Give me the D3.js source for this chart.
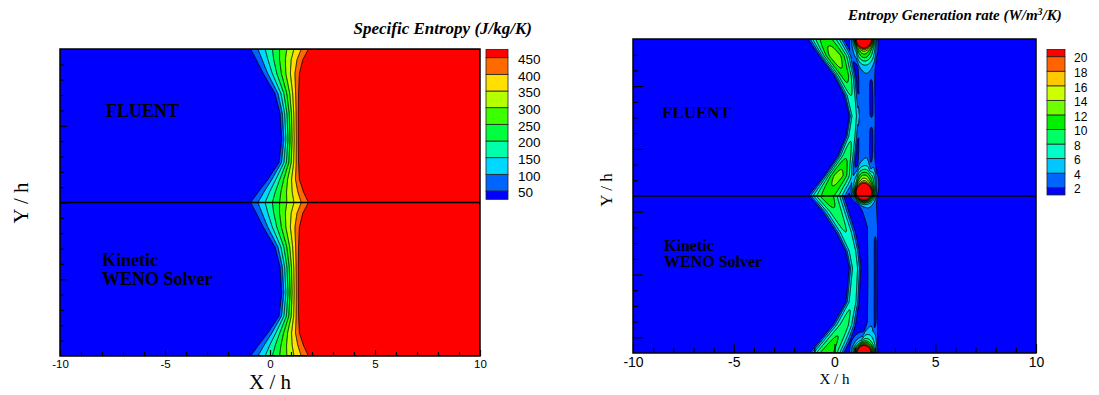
<!DOCTYPE html>
<html>
<head>
<meta charset="utf-8">
<script src="https://cdn.jsdelivr.net/npm/d3@7"></script>
<style>
  body { margin: 0; background: #fff; }
  svg { display: block; }
</style>
</head>
<body>
<svg id="chart" width="1099" height="395"></svg>
<script>
// ---------- values ----------
const xMajor = [-10, -5, 0, 5, 10];
const xMinor = d3.range(-10, 10.5, 1).filter(v => v % 5 !== 0);
const yMinor = d3.range(-9, 10, 1);
const yMajorLeft = [-5, 0, 5];
const yMajorRight = [7, 3, -1, -5, -9];

// left panel : specific entropy, levels and colours
const sLevels = [50, 100, 150, 200, 250, 300, 350, 400, 450];
const sColors = ["#0000ff", "#0064ff", "#00d8ff", "#00ffaa", "#00ff3c", "#3cff00", "#b4ff00", "#ffe000", "#ff6a00", "#ff0000"];
// edges of the entropy front (x/h) for each depth into a half channel (y/h from the wall)
const sDepth = [0, 0.7, 1.6, 2.9, 4.2, 5.9, 7.4, 8.5, 9.3, 10];
const sLeft  = [-0.92, -0.65, -0.32, 0.24, 0.48, 0.56, 0.43, -0.1, -0.55, -0.92];
const sRight = [1.83, 1.56, 1.40, 1.36, 1.35, 1.35, 1.36, 1.40, 1.59, 1.83];

// right panel : entropy generation rate
const gLevels = [2, 4, 6, 8, 10, 12, 14, 16, 18, 20];
const gColors = ["#0000ff", "#0064ff", "#00c8ff", "#00ffc8", "#00ff64", "#00f000", "#6eff00", "#ccff00", "#ffc800", "#ff6400", "#ff0000"];
// crescent ribbon, upper half
const r1DepthUp = [0, 1.08, 2.35, 3.6, 4.9, 6.2, 7.45, 8.7, 10];
const r1LeftUp  = [-1.38, -0.80, -0.06, 0.44, 0.69, 0.52, 0.11, -0.56, -1.38];
const r1RightUp = [0.52, 0.85, 1.10, 1.20, 1.27, 1.20, 1.10, 0.93, 0.69];
const r1PeakUp  = [11, 13.5, 11, 8, 7, 7.5, 9.5, 13, 11];
// crescent ribbon, lower half
const r1DepthLo = [0, 1.0, 2.3, 3.5, 4.6, 6.75, 8.2, 10];
const r1LeftLo  = [-1.30, -0.64, 0.02, 0.50, 0.69, 0.52, -0.14, -1.30];
const r1RightLo = [0.52, 0.77, 1.10, 1.28, 1.35, 1.27, 1.10, 0.52];
const r1PeakLo  = [11.5, 9.5, 8, 7.2, 7, 7.5, 9, 11.5];
// thin vertical ribbon
const r2Depth   = [0, 1, 2, 5, 8, 9, 10];
const r2LeftUp  = [1.0, 1.12, 1.15, 1.15, 1.15, 1.12, 1.0];
const r2RightUp = [2.1, 2.05, 2.05, 2.08, 2.05, 2.05, 2.1];
const r2LeftLo  = [1.0, 1.35, 1.6, 1.62, 1.6, 1.4, 1.1];
const r2RightLo = [2.1, 2.15, 2.17, 2.17, 2.17, 2.15, 2.1];
const r2Peak = 3.6;
const holeDepth = [0, 2.2, 2.8, 3.8, 4.8, 5.3, 5.8, 7.0, 8.3, 8.8, 10];
const holeUp    = [0, 0, 2.1, 2.5, 2.1, 0, 2.1, 2.5, 2.1, 0, 0];
const holeLo    = [0, 0, 2.1, 2.5, 2.5, 2.5, 2.5, 2.5, 2.1, 0, 0];
// hot spots on the walls and on the symmetry line
const blobX = [1.45, 1.45, 1.45];
const blobY = [10, 0.2, -10];
const blobPeak = [45, 45, 35];
const skirtY = [9.3, 0.9, -9.6];
const skirtPeak = [9, 11, 7];

// ---------- fields ----------
const sL = d3.scaleLinear(sDepth, sLeft), sR = d3.scaleLinear(sDepth, sRight);
function entropy(xv, yv) {
  const d = yv >= 0 ? 10 - yv : -yv;
  const t = (xv - sL(d)) / (sR(d) - sL(d));
  return 50 + 400 * Math.max(-0.2, Math.min(1.2, t));
}

const up1 = [d3.scaleLinear(r1DepthUp, r1LeftUp), d3.scaleLinear(r1DepthUp, r1RightUp), d3.scaleLinear(r1DepthUp, r1PeakUp)];
const lo1 = [d3.scaleLinear(r1DepthLo, r1LeftLo), d3.scaleLinear(r1DepthLo, r1RightLo), d3.scaleLinear(r1DepthLo, r1PeakLo)];
const up2 = [d3.scaleLinear(r2Depth, r2LeftUp), d3.scaleLinear(r2Depth, r2RightUp), d3.scaleLinear(holeDepth, holeUp)];
const lo2 = [d3.scaleLinear(r2Depth, r2LeftLo), d3.scaleLinear(r2Depth, r2RightLo), d3.scaleLinear(holeDepth, holeLo)];

// bump across a ribbon (k < 1 flattens the top)
function ribbon(xv, L, R, P, k) {
  const t = (xv - L) / (R - L);
  return t <= 0 || t >= 1 ? 0 : P * Math.pow(Math.sin(Math.PI * t), k);
}
function generation(xv, yv) {
  const upper = yv >= 0;
  const d = upper ? 10 - yv : -yv;
  const a = upper ? up1 : lo1, b = upper ? up2 : lo2;
  let v = ribbon(xv, a[0](d), a[1](d), a[2](d), 0.8);
  const L2 = b[0](d), R2 = b[1](d);
  const t2 = (xv - L2) / (R2 - L2);
  v += ribbon(xv, L2, R2, r2Peak, 0.35) - b[2](d) * Math.exp(-Math.pow((t2 - 0.72) / 0.1, 2));
  blobX.forEach((bx, i) => {
    const dx = xv - bx;
    v += blobPeak[i] * Math.exp(-(dx * dx) / (2 * 0.25 * 0.25) - Math.pow(yv - blobY[i], 2) / (2 * 0.3 * 0.3));
    v += skirtPeak[i] * Math.exp(-(dx * dx) / (2 * 0.4 * 0.4) - Math.pow(yv - skirtY[i], 2) / (2 * 0.6 * 0.6));
  });
  return v;
}

// ---------- drawing ----------
const svg = d3.select("#chart");
const serif = "'Times New Roman', 'Liberation Serif', serif";
const sans = "Arial, 'Liberation Sans', sans-serif";

function panel(o) {
  const x = d3.scaleLinear([-10, 10], [o.left, o.right]);
  const y = d3.scaleLinear([-10, 10], [o.bottom, o.top]);
  const w = o.right - o.left, h = o.bottom - o.top;
  const nx = Math.round(w), ny = Math.round(h);
  const values = new Float64Array(nx * ny);
  for (let j = 0; j < ny; j++) {
    const yv = y.invert(o.top + (j + 0.5) * h / ny);
    for (let i = 0; i < nx; i++) {
      values[j * nx + i] = o.field(x.invert(o.left + (i + 0.5) * w / nx), yv);
    }
  }
  const contours = d3.contours().size([nx, ny]).thresholds(o.levels)(values);
  const path = d3.geoPath(d3.geoTransform({
    point(px, py) { this.stream.point(o.left + px * w / nx, o.top + py * h / ny); }
  }));

  svg.append("clipPath").attr("id", o.id + "clip")
    .append("rect").attr("x", o.left).attr("y", o.top).attr("width", w).attr("height", h);
  const g = svg.append("g").attr("clip-path", `url(#${o.id}clip)`);
  g.append("rect").attr("x", o.left).attr("y", o.top).attr("width", w).attr("height", h)
    .attr("fill", o.colors[0]);
  g.selectAll("path.band").data(contours).join("path").attr("class", "band")
    .attr("d", path).attr("fill", (d, i) => o.colors[i + 1]);
  g.selectAll("path.line").data(contours).join("path").attr("class", "line")
    .attr("d", path).attr("fill", "none").attr("stroke", "#000").attr("stroke-width", 0.9);

  // symmetry line
  svg.append("line").attr("x1", o.left).attr("x2", o.right)
    .attr("y1", y(0)).attr("y2", y(0)).attr("stroke", "#000").attr("stroke-width", 1.6);

  // axes (ticks point inward)
  const ax = svg.append("g").attr("transform", `translate(0,${o.bottom})`);
  ax.call(d3.axisBottom(x).tickValues(xMinor).tickSize(-o.xMinorLen).tickFormat(""));
  const axM = svg.append("g").attr("transform", `translate(0,${o.bottom})`);
  axM.call(d3.axisBottom(x).tickValues(xMajor).tickSize(-o.xMajorLen).tickPadding(o.padX).tickFormat(d => String(d)));
  axM.selectAll("text").attr("font-family", sans).attr("font-size", o.tickFont).attr("fill", "#000");
  const ay = svg.append("g").attr("transform", `translate(${o.left},0)`);
  ay.call(d3.axisLeft(y).tickValues(yMinor.filter(v => !o.yMajor.includes(v))).tickSize(-o.yMinorLen).tickFormat(""));
  const ayM = svg.append("g").attr("transform", `translate(${o.left},0)`);
  ayM.call(d3.axisLeft(y).tickValues(o.yMajor).tickSize(-o.yMajorLen).tickFormat(""));
  svg.selectAll(".domain").remove();
  svg.selectAll(".tick line").attr("stroke", "#000").attr("stroke-width", 1.2);

  svg.append("rect").attr("x", o.left).attr("y", o.top).attr("width", w).attr("height", h)
    .attr("fill", "none").attr("stroke", "#000").attr("stroke-width", 1.5);
  return { x, y };
}

function legend(o) {
  const n = o.levels.length;
  const step = o.levels[1] - o.levels[0];
  const ly = d3.scaleLinear([o.levels[0], o.levels[n - 1]], [o.yLow, o.yHigh]);
  const bands = o.colors.map((c, i) => ({
    c,
    lo: i === 0 ? o.levels[0] - step / 2 : o.levels[i - 1],
    hi: i === n ? o.levels[n - 1] + step / 2 : o.levels[i]
  }));
  const g = svg.append("g");
  g.selectAll("rect").data(bands).join("rect")
    .attr("x", o.x).attr("width", o.w)
    .attr("y", d => ly(d.hi)).attr("height", d => ly(d.lo) - ly(d.hi))
    .attr("fill", d => d.c).attr("stroke", "#222").attr("stroke-width", 0.8);
  g.selectAll("text").data(o.levels).join("text")
    .attr("x", o.labelX).attr("y", d => ly(d) + 1.5).attr("dy", "0.35em")
    .attr("font-family", sans).attr("font-size", o.font).attr("fill", "#000")
    .text(d => d);
}

// left panel
panel({
  id: "s", left: 60, right: 480, top: 49, bottom: 356,
  field: entropy, levels: sLevels, colors: sColors,
  xMinorLen: 4, xMajorLen: 6, yMinorLen: 4, yMajorLen: 7, yMajor: yMajorLeft,
  padX: 4, tickFont: "11.5px"
});
legend({ levels: sLevels, colors: sColors, x: 486, w: 22, yLow: 191, yHigh: 57.7, labelX: 518, font: "13.5px" });

// right panel
panel({
  id: "g", left: 633, right: 1036, top: 39, bottom: 353,
  field: generation, levels: gLevels, colors: gColors,
  xMinorLen: 5, xMajorLen: 9, yMinorLen: 5, yMajorLen: 10, yMajor: yMajorRight,
  padX: 4, tickFont: "14px"
});
legend({ levels: gLevels, colors: gColors, x: 1047, w: 18, yLow: 187.7, yHigh: 56.7, labelX: 1074, font: "12px" });

// ---------- text ----------
function label(x, y, txt, size, weight, style, anchor) {
  return svg.append("text").attr("x", x).attr("y", y)
    .attr("font-family", serif).attr("font-size", size)
    .attr("font-weight", weight || "normal").attr("font-style", style || "normal")
    .attr("text-anchor", anchor || "start").attr("fill", "#000").text(txt);
}
label(532, 34, "Specific Entropy (J/kg/K)", "17px", "bold", "italic", "end");
const t2 = label(848, 20, "Entropy Generation rate (W/m", "15px", "bold", "italic");
t2.append("tspan").attr("baseline-shift", "super").attr("font-size", "10px").text("3");
t2.append("tspan").text("/K)");

label(270, 389, "X / h", "21px", "normal", "normal", "middle");
label(834.5, 384, "X / h", "15px", "normal", "normal", "middle");
label(0, 0, "Y / h", "21px", "normal", "normal", "middle").attr("transform", "translate(28,203) rotate(-90)");
label(0, 0, "Y / h", "17px", "normal", "normal", "middle").attr("transform", "translate(612,190) rotate(-90)");

label(106, 117, "FLUENT", "18px", "bold");
label(102, 266, "Kinetic", "18px", "bold");
label(102, 285, "WENO Solver", "18px", "bold");
label(662, 118, "FLUENT", "17px", "bold");
label(664, 251, "Kinetic", "16px", "bold");
label(664, 267, "WENO Solver", "16px", "bold");
</script>
</body>
</html>
